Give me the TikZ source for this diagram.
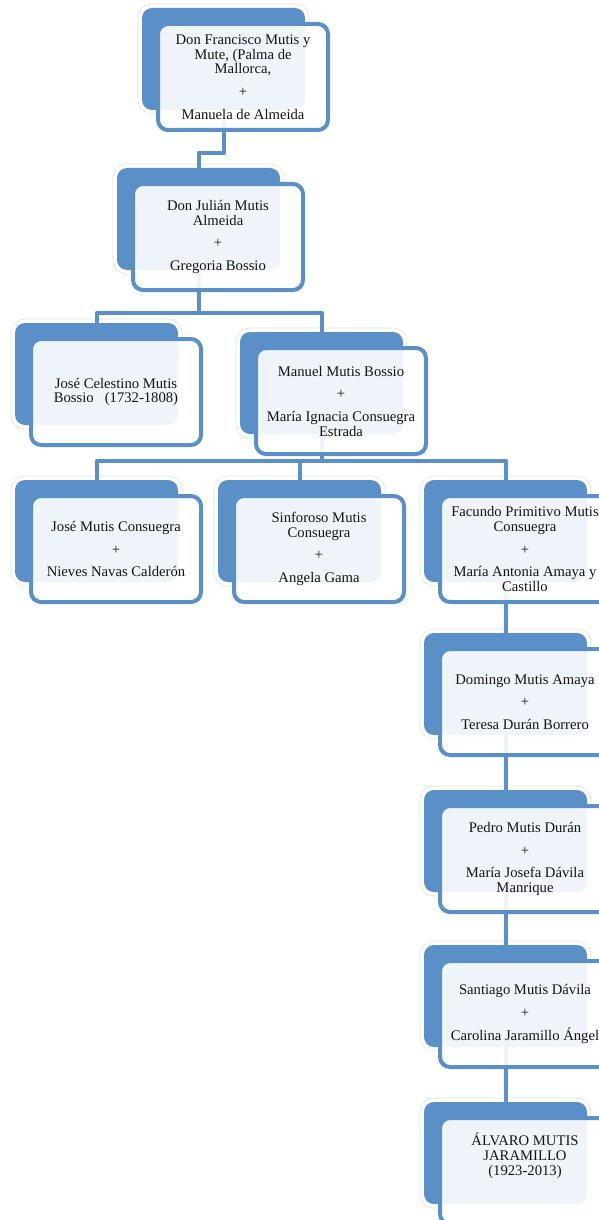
\documentclass[tikz,border=0pt]{standalone}
\usepackage{fontspec}
\setmainfont{Liberation Serif}
\definecolor{azul}{RGB}{91,143,199}
\pgfdeclarelayer{fondo}
\pgfdeclarelayer{lineas}
\pgfsetlayers{fondo,lineas,main}
\tikzset{
	cajafondo/.style={anchor=north west, rectangle, rounded corners=7.5pt, fill=azul,
		minimum width=122.25pt, minimum height=76.5pt, inner sep=0pt, outer sep=0pt,
		preaction={draw=black!12, line width=6.5pt}, preaction={draw=white, line width=5.5pt}},
	tarjeta/.style={anchor=north west, rectangle, rounded corners=7.5pt, draw=azul, line width=3pt,
		fill=white, fill opacity=0.9, text opacity=1, minimum width=127.5pt, minimum height=79.5pt,
		inner sep=2pt, outer sep=0pt, align=center, text=black!92, font=\fontsize{11}{11}\selectfont},
	enlace/.style={draw=azul, line width=3pt, line join=round}
}
% back box at (#2,#3), card on top of it
\newcommand{\miembro}[4]{%
	\begin{pgfonlayer}{fondo}
		\node[cajafondo] (#1) at (#2,#3) {};
	\end{pgfonlayer}
	\node[tarjeta] (#1t) at ({#2+16},{#3+16}) {#4};
}

\begin{document}
\begin{tikzpicture}[x=0.75pt, y=-0.75pt]
			%%%%% START %%%%%
			
			\useasboundingbox (0,0) rectangle (599,1220);
			\clip (0,0) rectangle (599,1220);
			
			\miembro{don}{142}{8}{Don Francisco Mutis y\\Mute, (Palma de\\Mallorca,\\[6pt]+\\[6pt]Manuela de Almeida}
			\miembro{julian}{117}{168}{Don Julián Mutis\\Almeida\\[6pt]+\\[6pt]Gregoria Bossio}
			
			\miembro{celestino}{15}{323}{José Celestino Mutis\\Bossio~~~(1732-1808)}
			\miembro{manuel}{240}{332}{Manuel Mutis Bossio\\[6pt]+\\[6pt]María Ignacia Consuegra\\Estrada}
			
			\miembro{josemutis}{15}{480}{José Mutis Consuegra\\[6pt]+\\[6pt]Nieves Navas Calderón}
			\miembro{sinforoso}{218}{480}{Sinforoso Mutis\\Consuegra\\[6pt]+\\[6pt]Angela Gama}
			\miembro{facundo}{424}{480}{Facundo Primitivo Mutis\\Consuegra\\[6pt]+\\[6pt]María Antonia Amaya y\\Castillo}
			
			\miembro{domingo}{424}{633}{Domingo Mutis Amaya\\[6pt]+\\[6pt]Teresa Durán Borrero}
			\miembro{pedro}{424}{790}{Pedro Mutis Durán\\[6pt]+\\[6pt]María Josefa Dávila\\Manrique}
			\miembro{santiago}{424}{945}{Santiago Mutis Dávila\\[6pt]+\\[6pt]Carolina Jaramillo Ángel}
			\miembro{alvaro}{424}{1102}{ÁLVARO MUTIS\\JARAMILLO\\(1923-2013)\\[14pt]~}
			
			% connectors
			\begin{pgfonlayer}{lineas}
				\coordinate (barra0) at (0,153);
				\coordinate (barra1) at (0,313);
				\coordinate (barra2) at (0,461);
				
				\draw[enlace] (don.south) -- (don.south |- barra0) -| (julian.north);
				
				\draw[enlace] (julian.south) -- (julian.south |- barra1) -| (celestino.north);
				\draw[enlace] (julian.south |- barra1) -| (manuel.north);
				
				\draw[enlace] (manuel.south) -- (manuel.south |- barra2) -| (josemutis.north);
				\draw[enlace] (manuel.south |- barra2) -| (sinforoso.north);
				\draw[enlace] (manuel.south |- barra2) -| (facundo.north);
				
				\draw[enlace] (facundo.south) -- (domingo.north);
				\draw[enlace] (domingo.south) -- (pedro.north);
				\draw[enlace] (pedro.south) -- (santiago.north);
				\draw[enlace] (santiago.south) -- (alvaro.north);
			\end{pgfonlayer}
			
			%%%%% END %%%%%
\end{tikzpicture}
\end{document}
